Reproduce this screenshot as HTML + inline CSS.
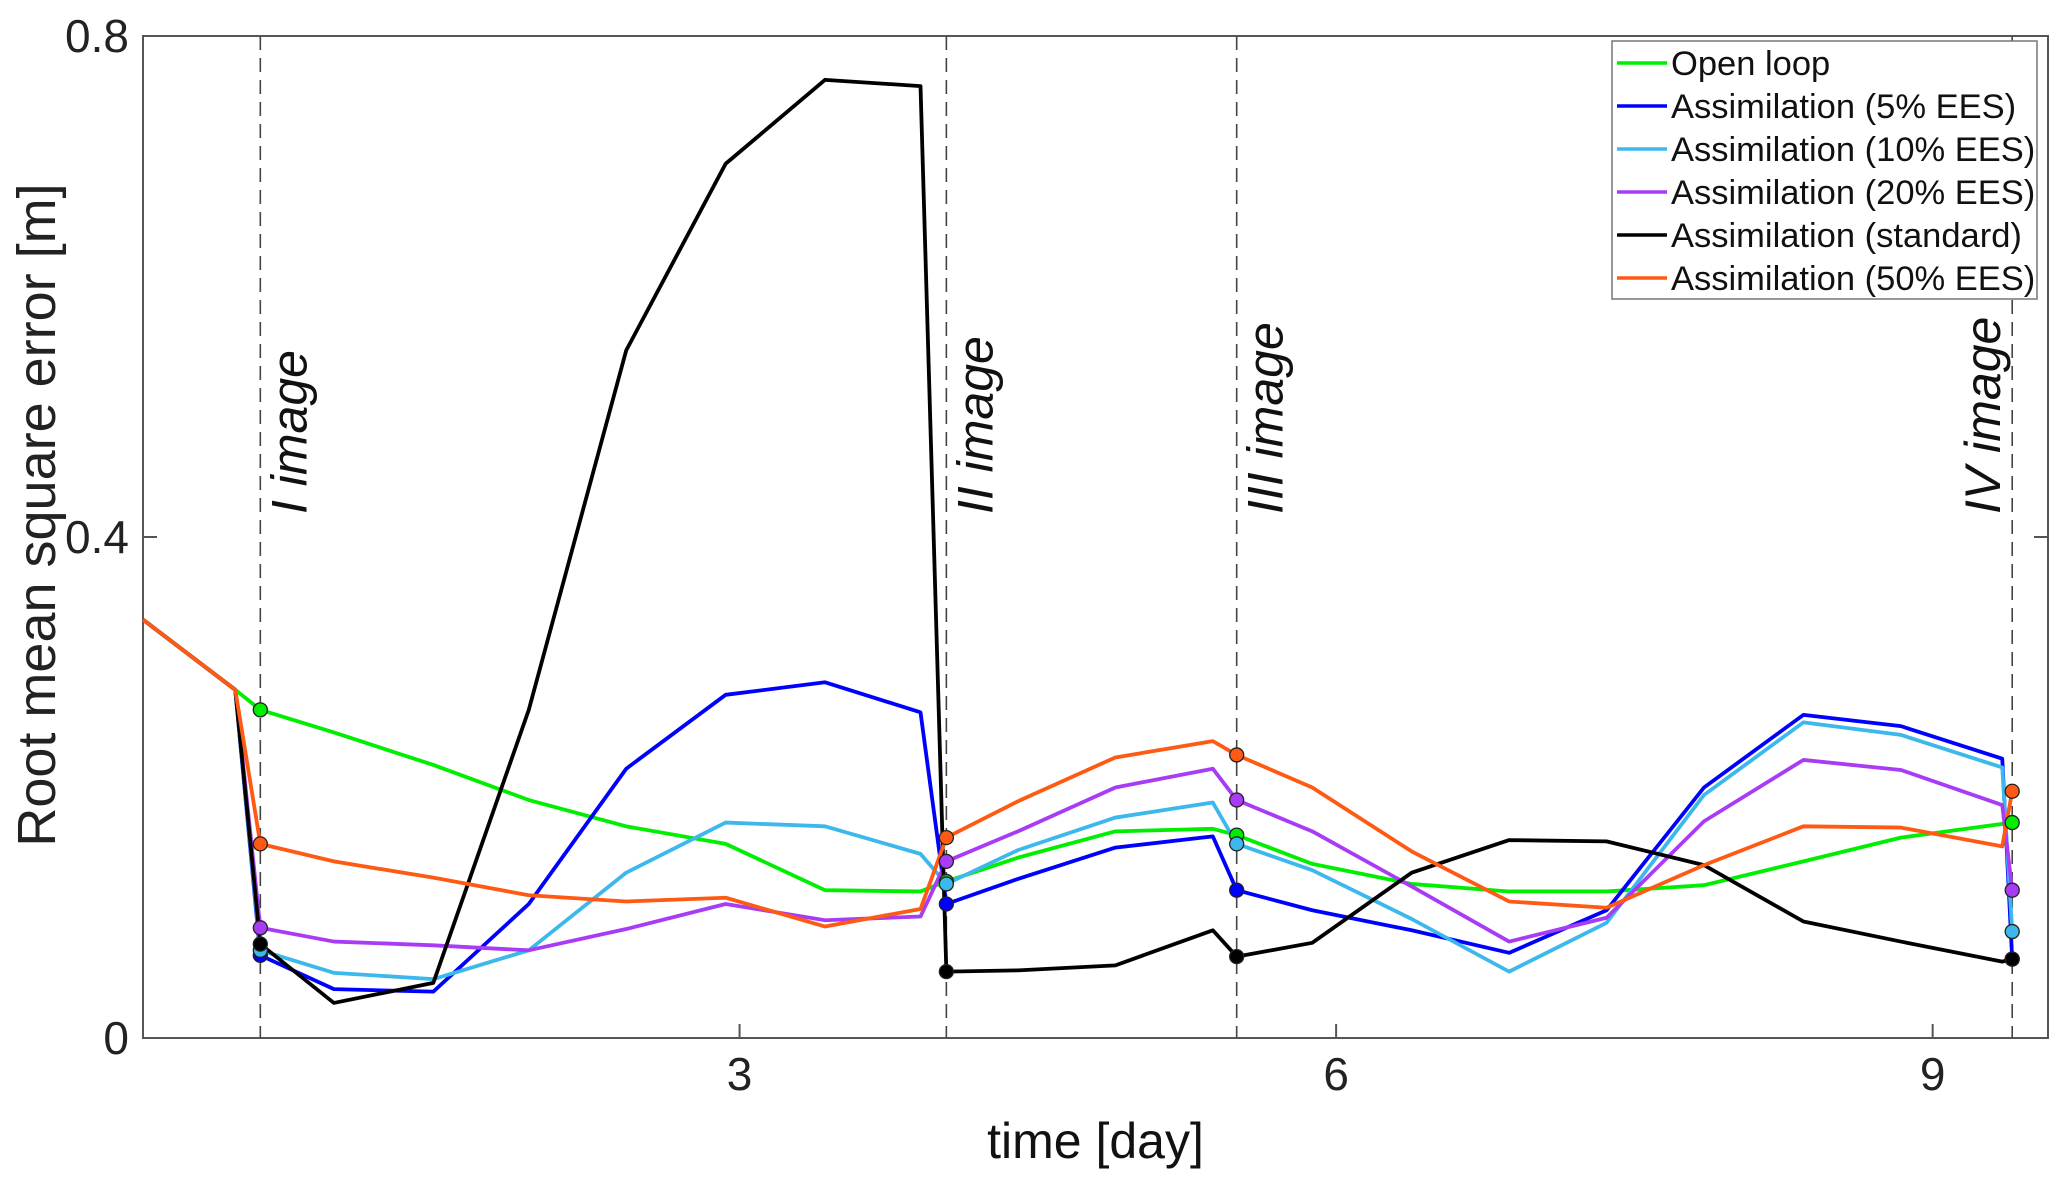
<!DOCTYPE html>
<html><head><meta charset="utf-8"><style>
html,body{margin:0;padding:0;background:#fff;}
svg{display:block;font-family:"Liberation Sans",sans-serif;}
</style></head><body>
<svg id="chart" width="2067" height="1186" viewBox="0 0 2067 1186" xmlns="http://www.w3.org/2000/svg">
<rect x="0" y="0" width="2067" height="1186" fill="#fff"/>
<g id="plot"></g>
</svg>
<script>
const xDays = [0,0.464,0.59,0.96,1.46,1.94,2.43,2.93,3.43,3.91,4.04,4.40,4.89,5.38,5.50,5.88,6.38,6.87,7.36,7.85,8.35,8.84,9.35,9.40];
const openLoop = [0.334,0.278,0.262,0.244,0.218,0.19,0.169,0.155,0.118,0.117,0.125,0.144,0.165,0.167,0.162,0.139,0.123,0.117,0.117,0.122,0.141,0.16,0.171,0.172];
const ees5 = [0.334,0.278,0.066,0.039,0.037,0.107,0.215,0.274,0.284,0.26,0.107,0.127,0.152,0.161,0.118,0.102,0.086,0.068,0.102,0.2,0.258,0.249,0.223,0.063];
const ees10 = [0.334,0.278,0.07,0.052,0.047,0.07,0.132,0.172,0.169,0.147,0.123,0.15,0.176,0.188,0.155,0.134,0.095,0.053,0.092,0.194,0.252,0.242,0.216,0.085];
const ees20 = [0.334,0.278,0.088,0.077,0.074,0.07,0.087,0.107,0.094,0.097,0.141,0.165,0.2,0.215,0.19,0.165,0.121,0.077,0.096,0.173,0.222,0.214,0.186,0.118];
const standard = [0.334,0.278,0.075,0.028,0.044,0.262,0.549,0.698,0.765,0.76,0.053,0.054,0.058,0.086,0.065,0.076,0.132,0.158,0.157,0.138,0.093,0.077,0.061,0.063];
const ees50 = [0.334,0.278,0.155,0.141,0.128,0.114,0.109,0.112,0.089,0.103,0.16,0.189,0.224,0.237,0.226,0.2,0.149,0.109,0.104,0.138,0.169,0.168,0.153,0.197];
const seriesNames = ["Open loop","Assimilation (5% EES)","Assimilation (10% EES)","Assimilation (20% EES)","Assimilation (standard)","Assimilation (50% EES)"];
const imageDays = [0.59,4.04,5.50,9.40];
const imageLabels = ["I image","II image","III image","IV image"];
const markerIdx = [2,10,14,23];
const xTicks = [3,6,9];
const yTicks = [0,0.4,0.8];
const yTickLabels = ["0","0.4","0.8"];

const L=143,R=2048,T=36,B=1038,XMAX=9.58,YMAX=0.8;
const sx=d=>L+(R-L)*d/XMAX, sy=v=>B-(B-T)*v/YMAX;
const NS="http://www.w3.org/2000/svg";
const g=document.getElementById('plot');
function mk(tag,attrs,parent){const e=document.createElementNS(NS,tag);for(const k in attrs)e.setAttribute(k,attrs[k]);(parent||g).appendChild(e);return e;}

const box=mk('rect',{x:L,y:T,width:R-L,height:B-T,fill:'none',stroke:'#555','stroke-width':2});


xTicks.forEach(t=>{
  const ln=mk('line',{x1:sx(t),x2:sx(t),y1:B,y2:B-14,stroke:'#555','stroke-width':2});
  
  
  const tx=mk('text',{x:sx(t),y:B+52,'font-size':46,'text-anchor':'middle',fill:'#222'});
  tx.textContent=t;
  
  
});
yTicks.forEach((t,i)=>{
  const l1=mk('line',{x1:L,x2:L+14,y1:sy(t),y2:sy(t),stroke:'#555','stroke-width':2});
  
  
  const l2=mk('line',{x1:R,x2:R-14,y1:sy(t),y2:sy(t),stroke:'#555','stroke-width':2});
  
  
  const tx=mk('text',{x:L-14,y:sy(t)+16,'font-size':46,'text-anchor':'end',fill:'#222'});
  tx.textContent=yTickLabels[i];
  
  
});
const xl=mk('text',{x:(L+R)/2,y:1158,'font-size':50,'text-anchor':'middle',fill:'#111'});
xl.textContent='time [day]';


const yl=mk('text',{x:0,y:0,'font-size':54,'text-anchor':'middle',fill:'#222',transform:'translate(55,515) rotate(-90)'});
yl.setAttribute('xml:space','preserve');
yl.textContent='Root mean square error  [m]';



imageDays.forEach((d,i)=>{
  const ln=mk('line',{x1:sx(d),x2:sx(d),y1:T,y2:B,stroke:'#444','stroke-width':1.6,'stroke-dasharray':'14,8'});
  
  
  const tx=mk('text',{x:0,y:0,'font-size':50,'font-style':'italic','text-anchor':'start',fill:'#111',transform:'translate('+(sx(d)+(i==3?-12:46))+',514) rotate(-90)'});
  tx.textContent=imageLabels[i];
  
  
});

const data=[openLoop,ees5,ees10,ees20,standard,ees50];
const colors=['#00ee00','#0000ff','#3db8ec','#a83cf5','#000000','#ff5a14'];
const drawOrder=[0,1,2,3,4,5];
drawOrder.forEach(s=>{
  const pts=data[s].map((v,i)=>sx(xDays[i])+','+sy(v)).join(' ');
  const pl=mk('polyline',{points:pts,fill:'none',stroke:colors[s],'stroke-width':3.8,'stroke-linejoin':'round'});
  
  
});
drawOrder.forEach(s=>{
  markerIdx.forEach(i=>{
    const c=mk('circle',{cx:sx(xDays[i]),cy:sy(data[s][i]),r:7,fill:colors[s],stroke:'#222','stroke-width':1.3});
    
    
  });
});

const lg=mk('g',{});


mk('rect',{x:1612,y:41,width:425,height:258,fill:'#fff',stroke:'#777','stroke-width':1.5},lg);
seriesNames.forEach((n,i)=>{
  const y=63+i*43;
  const ln=mk('line',{x1:1617,x2:1667,y1:y,y2:y,stroke:colors[i],'stroke-width':3.6},lg);
  
  
  const tx=mk('text',{x:1671,y:y+12,'font-size':34.5,fill:'#111'},lg);
  tx.textContent=n;
  
  
});
</script>
</body></html>
